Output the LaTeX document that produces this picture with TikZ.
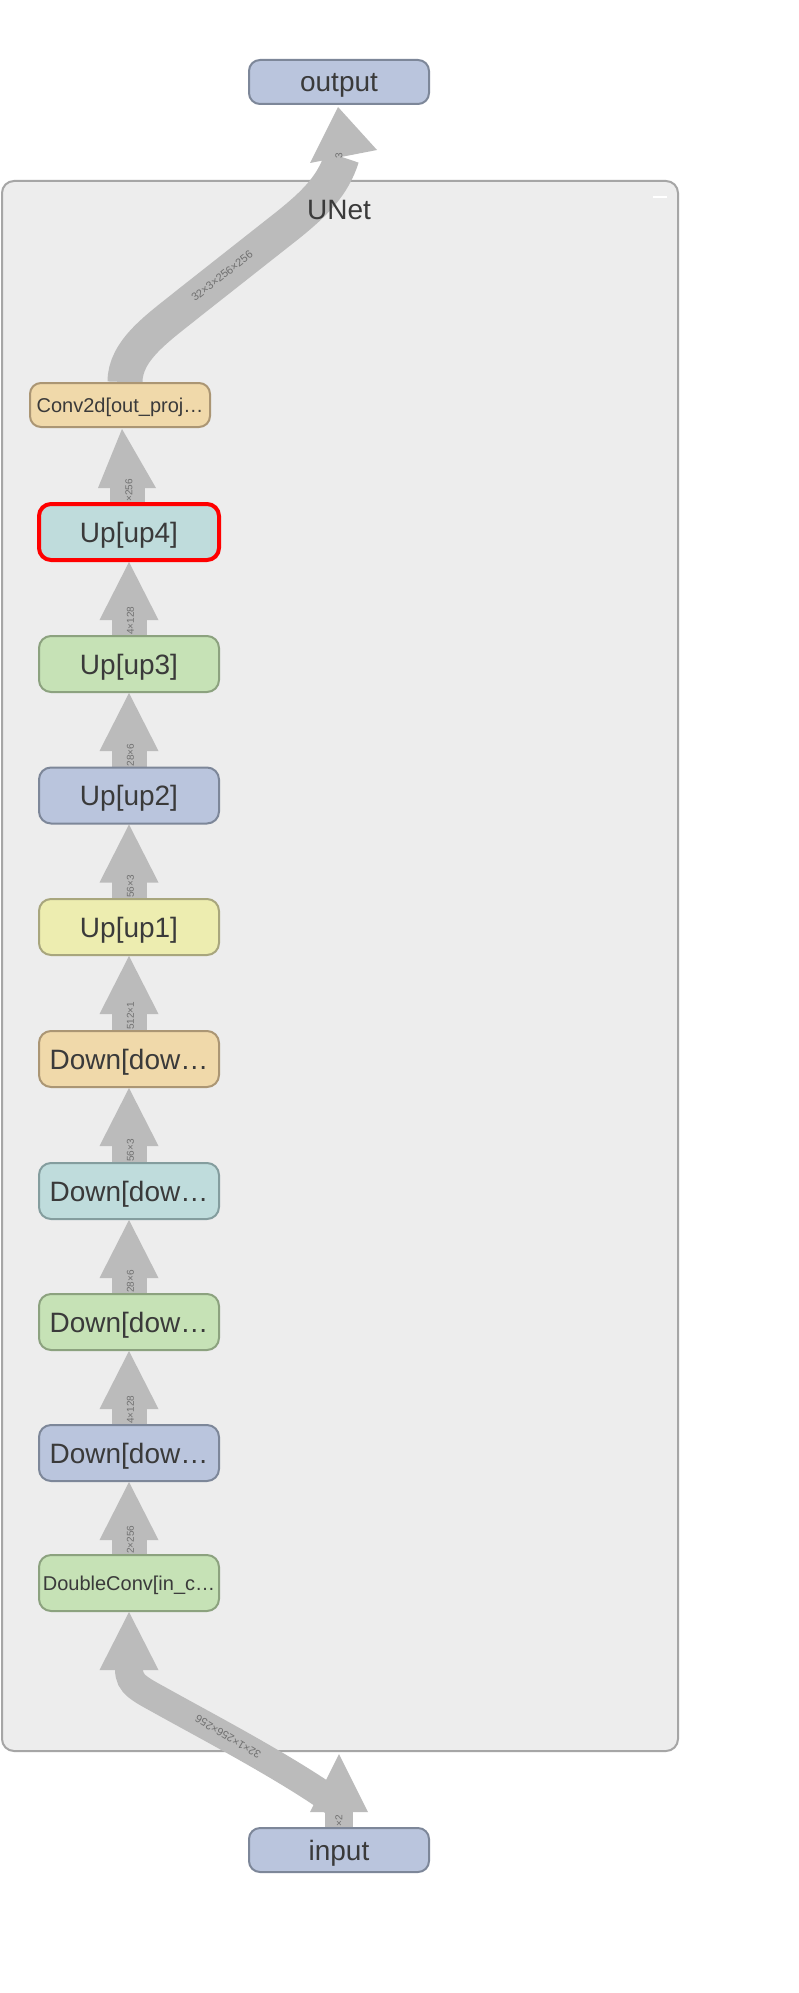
\documentclass[tikz,border=0pt]{standalone}
\usepackage{fontspec}
\setmainfont{Liberation Sans}
\usetikzlibrary{calc}
\pgfdeclarelayer{bg}
\pgfdeclarelayer{edges}
\pgfsetlayers{bg,edges,main}
\definecolor{bfill}{HTML}{BAC5DD}
\definecolor{bline}{HTML}{7D8799}
\definecolor{gfill}{HTML}{C6E2B6}
\definecolor{gline}{HTML}{8CA27F}
\definecolor{tfill}{HTML}{BFDCDC}
\definecolor{tline}{HTML}{849D9E}
\definecolor{ofill}{HTML}{F0D9AA}
\definecolor{oline}{HTML}{AB9674}
\definecolor{yfill}{HTML}{EDEDB0}
\definecolor{yline}{HTML}{A8A67D}
\definecolor{arrowc}{HTML}{BBBBBB}
\definecolor{contf}{HTML}{EDEDED}
\definecolor{contl}{HTML}{A6A6A6}
\definecolor{txt}{HTML}{3A3A3A}
\definecolor{labc}{HTML}{707070}
\tikzset{
  blk/.style={draw, line width=2pt, rounded corners=12pt, minimum width=180pt, minimum height=56pt, inner sep=0pt, text=txt, font=\fontsize{28}{30}\selectfont, text height=20pt, text depth=0pt},
  smalltxt/.style={font=\fontsize{20}{22}\selectfont, text height=14pt, text depth=0pt},
  iobox/.style={blk, minimum height=44pt, rounded corners=11pt},
  nb/.style={fill=bfill, draw=bline},
  ng/.style={fill=gfill, draw=gline},
  nt/.style={fill=tfill, draw=tline},
  no/.style={fill=ofill, draw=oline},
  ny/.style={fill=yfill, draw=yline},
  shaft/.style={draw=arrowc, line width=35pt},
  thinshaft/.style={draw=arrowc, line width=28pt},
  headc/.style={fill=arrowc},
  elab/.style={font=\fontsize{10}{10}\selectfont, text=labc, inner sep=0pt, rotate=90, anchor=west},
  clab/.style={font=\fontsize{11}{11}\selectfont, text=labc, inner sep=0pt},
}
\newcommand\vconn[3]{%
  \draw[shaft] (#1.north) -- ($(#1.north |- #2.south)+(0,57)$);
  \fill[headc] (#1.north |- #2.south) -- +(-29.5,58) -- +(29.5,58) -- cycle;
  \node[elab] at ($(#1.north)+(1.5,0)$) {#3};
}
\begin{document}
\begin{tikzpicture}[x=1pt,y=-1pt]
\useasboundingbox (0,0) rectangle (798,1993);
\begin{pgfonlayer}{bg}
  \fill[white] (0,0) rectangle (798,1993);
  \node[draw=contl, fill=contf, line width=2pt, rounded corners=12pt, minimum width=676pt, minimum height=1570pt, inner sep=0pt] (unet) at (340,966) {};
\end{pgfonlayer}
\draw[white, line width=2pt] (653,197) -- (667,197);
\node[text=txt, font=\fontsize{28}{30}\selectfont, inner sep=0pt, text height=20pt, text depth=0pt] (unetlab) at (339,210) {UNet};

% nodes
\node[iobox, nb] (output) at (339,82) {output};
\node[iobox, no, smalltxt] (conv) at (120,405) {Conv2d[out\_proj…};
\node[blk, fill=tfill, draw=red, line width=4pt] (up4) at (129,532) {Up[up4]};
\node[blk, ng] (up3) at (129,664) {Up[up3]};
\node[blk, nb] (up2) at (129,795.5) {Up[up2]};
\node[blk, ny] (up1) at (129,927) {Up[up1]};
\node[blk, no] (down1) at (129,1059) {Down[dow…};
\node[blk, nt] (down2) at (129,1191) {Down[dow…};
\node[blk, ng] (down3) at (129,1322) {Down[dow…};
\node[blk, nb] (down4) at (129,1453) {Down[dow…};
\node[blk, ng, smalltxt] (dconv) at (129,1583) {DoubleConv[in\_c…};
\node[iobox, nb] (input) at (339,1850) {input};

\begin{pgfonlayer}{edges}
  % vertical connectors
  \vconn{dconv}{down4}{2×256}
  \vconn{down4}{down3}{4×128}
  \vconn{down3}{down2}{28×6}
  \vconn{down2}{down1}{56×3}
  \vconn{down1}{up1}{512×1}
  \vconn{up1}{up2}{56×3}
  \vconn{up2}{up3}{28×6}
  \vconn{up3}{up4}{4×128}
  % up4 -> conv
  \draw[shaft] ($(up4.north)+(-2,0)$) -- ($(up4.north)+(-2,-15)$);
  \fill[headc] ($(conv.south)+(2,1)$) -- ($(up4.north)+(-31,-14)$) -- ($(up4.north)+(27,-14)$) -- cycle;
  \node[elab] at ($(up4.north)+(0,0)$) {×256};
  % conv -> output (curved)
  \coordinate (tA) at ($(conv.north)+(5,0)$);
  \coordinate (tF) at (342,157);
  \draw[shaft] (tA) .. controls (125,350) and (158,328) .. (189,303) -- (288,225) .. controls (314,204) and (333,186) .. (tF);
  \fill[headc] ($(output.south)+(-1,2)$) -- ($(output.south)+(-29,58)$) -- ($(output.south)+(38,45)$) -- cycle;
  \node[clab, rotate=38] at (222,276) {32×3×256×256};
  \node[elab, anchor=center] at (339,156) {3};
  % input -> UNet boundary -> dconv
  \coordinate (bS) at ($(input.north)+(-1,-22)$);
  \draw[thinshaft] (bS) .. controls (290,1770) and (210,1728) .. (165,1703) .. controls (140,1689) and (129,1685) .. ($(dconv.south)+(0,57)$);
  \fill[headc] (dconv.south) -- +(-29.5,58) -- +(29.5,58) -- cycle;
  \node[clab, rotate=149] at (228,1737) {32×1×256×256};
  \draw[thinshaft] (input.north) -- ++(0,-16);
  \fill[headc] ($(input.north |- unet.south)+(0,2)$) -- ($(input.north)+(-29,-15)$) -- ($(input.north)+(29,-15)$) -- cycle;
  \node[elab, anchor=center] at ($(input.north)+(0,-6)$) {×2};
\end{pgfonlayer}
\end{tikzpicture}
\end{document}
